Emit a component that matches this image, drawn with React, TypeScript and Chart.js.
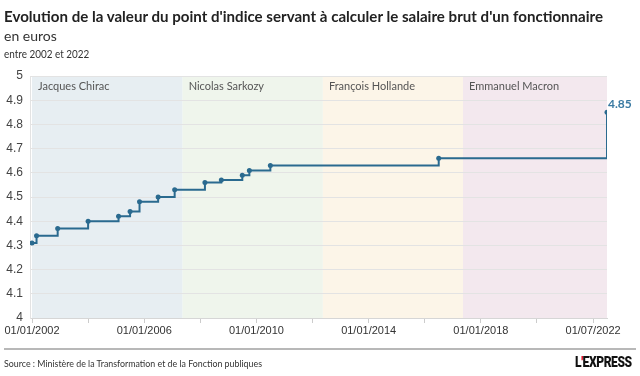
import React, { useEffect, useLayoutEffect, useRef, useState } from "react";
import { Chart, registerables } from "chart.js";

Chart.register(...registerables);

// ---------- data ----------
const TITLE = "Evolution de la valeur du point d'indice servant à calculer le salaire brut d'un fonctionnaire";
const SUBTITLE = "en euros";
const NOTE = "entre 2002 et 2022";
const SOURCE = "Source : Ministère de la Transformation et de la Fonction publiques";
const LOGO_LEFT = "L";
const LOGO_APOS = "'";
const LOGO_RIGHT = "EXPRESS";

const pointDates = [
  "2002-01-01", "2002-03-01", "2002-12-01", "2004-01-01", "2005-02-01",
  "2005-07-01", "2005-11-01", "2006-07-01", "2007-02-01", "2008-03-01",
  "2008-10-01", "2009-07-01", "2009-10-01", "2010-07-01", "2016-07-01",
  "2022-07-01",
];
const pointValues = [
  4.31, 4.34, 4.37, 4.40, 4.42,
  4.44, 4.48, 4.50, 4.53, 4.56,
  4.57, 4.59, 4.61, 4.63, 4.66,
  4.85,
];
const lastValueLabel = "4.85";

const presidents = ["Jacques Chirac", "Nicolas Sarkozy", "François Hollande", "Emmanuel Macron"];
const termStarts = ["2002-01-01", "2007-05-16", "2012-05-15", "2017-05-14"];
const termEnds = ["2007-05-16", "2012-05-15", "2017-05-14", "2022-07-01"];
const bandColors = ["#e7eef2", "#eff5ec", "#fcf5e8", "#f3e8ee"];

const xTickYears = [2002, 2004, 2006, 2008, 2010, 2012, 2014, 2016, 2018, 2020, 2022];
const xLabelYears = [2002, 2006, 2010, 2014, 2018, 2022];
const xLabelTexts = ["01/01/2002", "01/01/2006", "01/01/2010", "01/01/2014", "01/01/2018", "01/07/2022"];
const yTicks = [4, 4.1, 4.2, 4.3, 4.4, 4.5, 4.6, 4.7, 4.8, 4.9, 5];

const LINE_COLOR = "#2a6a8f";

function toYear(s: string): number {
  const d = Date.parse(s + "T00:00:00Z");
  const y = new Date(d).getUTCFullYear();
  const a = Date.UTC(y, 0, 1);
  const b = Date.UTC(y + 1, 0, 1);
  return y + (d - a) / (b - a);
}

// ---------- helpers ----------
function FitText(props: { text: React.ReactNode; width: number; style: React.CSSProperties }) {
  const ref = useRef<HTMLSpanElement>(null);
  const [k, setK] = useState(1);
  useLayoutEffect(() => {
    if (ref.current) {
      const w = ref.current.offsetWidth;
      if (w > 0) setK(props.width / w);
    }
  }, [props.width]);
  return (
    <span
      ref={ref}
      style={{
        position: "absolute",
        whiteSpace: "nowrap",
        display: "inline-block",
        transformOrigin: "0 0",
        transform: `scaleX(${k})`,
        ...props.style,
      }}
    >
      {props.text}
    </span>
  );
}

const bandsPlugin = {
  id: "bands",
  beforeDraw(chart: any) {
    const { ctx, scales } = chart;
    const x = scales.x;
    const y = scales.y;
    ctx.save();
    for (let i = 0; i < presidents.length; i++) {
      const x0 = x.getPixelForValue(toYear(termStarts[i]));
      const x1 = x.getPixelForValue(toYear(termEnds[i]));
      ctx.fillStyle = bandColors[i];
      ctx.fillRect(x0, y.getPixelForValue(5), x1 - x0, y.getPixelForValue(4) - y.getPixelForValue(5));
    }
    ctx.restore();
  },
  beforeDatasetsDraw(chart: any) {
    const { ctx, scales } = chart;
    const x = scales.x;
    const y = scales.y;
    ctx.save();
    ctx.font = "11px Lato";
    ctx.fillStyle = "#555555";
    ctx.textBaseline = "alphabetic";
    ctx.textAlign = "left";
    for (let i = 0; i < presidents.length; i++) {
      const x0 = x.getPixelForValue(toYear(termStarts[i]));
      ctx.fillText(presidents[i], x0 + 6, y.getPixelForValue(5) + 14);
    }
    ctx.restore();
  },
  afterDatasetsDraw(chart: any) {
    const { ctx } = chart;
    const meta = chart.getDatasetMeta(0);
    const p = meta.data[meta.data.length - 1];
    ctx.save();
    ctx.font = "bold 12px Lato";
    ctx.fillStyle = "#3a7aa2";
    ctx.textAlign = "left";
    ctx.textBaseline = "alphabetic";
    ctx.fillText(lastValueLabel, p.x + 1, p.y - 4);
    ctx.restore();
  },
};

export default function App() {
  const canvasRef = useRef<HTMLCanvasElement>(null);

  useEffect(() => {
    if (!canvasRef.current) return;
    const data = pointDates.map((d, i) => ({ x: toYear(d), y: pointValues[i] }));
    const xMax = toYear(pointDates[pointDates.length - 1]);
    const chart = new Chart(canvasRef.current, {
      type: "line",
      data: {
        datasets: [
          {
            data,
            stepped: "before",
            borderColor: LINE_COLOR,
            backgroundColor: LINE_COLOR,
            borderWidth: 2,
            pointRadius: 2.5,
            pointBorderWidth: 0,
            pointBackgroundColor: LINE_COLOR,
            fill: false,
          },
        ],
      },
      options: {
        responsive: false,
        animation: false,
        devicePixelRatio: 1,
        layout: { padding: { top: 76, right: 33, left: 0, bottom: 0 } },
        plugins: { legend: { display: false }, tooltip: { enabled: false } },
        scales: {
          x: {
            type: "linear",
            min: 2002 - 2 / 28.02,
            max: xMax,
            afterBuildTicks: (scale: any) => {
              scale.ticks = xTickYears.map((v) => ({ value: v }));
            },
            afterFit: (scale: any) => {
              scale.height = 58;
            },
            grid: { drawOnChartArea: false, drawTicks: true, tickLength: 5, color: "#cccccc" },
            border: { display: true, color: "#d6d6d6" },
            ticks: {
              autoSkip: false,
              maxRotation: 0,
              padding: 1,
              color: "#333333",
              font: { family: "Liberation Sans", size: 11 },
              callback: (v: any) => {
                const idx = xLabelYears.indexOf(Number(v));
                return idx >= 0 ? xLabelTexts[idx] : "";
              },
            },
          },
          y: {
            min: 4,
            max: 5,
            afterBuildTicks: (scale: any) => {
              scale.ticks = yTicks.map((v) => ({ value: v }));
            },
            afterFit: (scale: any) => {
              scale.width = 30;
            },
            grid: { drawTicks: false, color: "#e3e3e3" },
            border: { display: true, color: "#e3e3e3" },
            ticks: {
              padding: 7,
              color: "#444444",
              font: { family: "Liberation Sans", size: 12 },
              callback: (v: any) => String(Math.round(Number(v) * 10) / 10),
            },
          },
        },
      },
      plugins: [bandsPlugin],
    } as any);
    return () => chart.destroy();
  }, []);

  return (
    <div
      style={{
        position: "fixed",
        left: 0,
        top: 0,
        width: 640,
        height: 376,
        background: "#ffffff",
        overflow: "hidden",
      }}
    >
      <canvas ref={canvasRef} width={640} height={376} style={{ position: "absolute", left: 0, top: 0 }} />
      <FitText
        text={TITLE}
        width={599}
        style={{ left: 4, top: 7, fontFamily: "Lato", fontWeight: 700, fontSize: 15.5, lineHeight: "18px", color: "#222" }}
      />
      <FitText
        text={SUBTITLE}
        width={53}
        style={{ left: 4, top: 28, fontFamily: "Lato", fontSize: 14, lineHeight: "16.8px", color: "#333" }}
      />
      <FitText
        text={NOTE}
        width={85}
        style={{ left: 4, top: 48, fontFamily: "Lato", fontSize: 10.5, lineHeight: "12.6px", color: "#333" }}
      />
      <div style={{ position: "absolute", left: 4, top: 348, width: 632, height: 2, background: "#b8b8b8" }} />
      <FitText
        text={SOURCE}
        width={258}
        style={{ left: 4, top: 357, fontFamily: "Lato", fontSize: 10, lineHeight: "12px", color: "#333" }}
      />
      <FitText
        text={
          <>
            {LOGO_LEFT}
            <span style={{ color: "#e2001a" }}>{LOGO_APOS}</span>
            {LOGO_RIGHT}
          </>
        }
        width={57}
        style={{ left: 575, top: 354, fontFamily: "Roboto", fontWeight: 900, fontSize: 14, lineHeight: "16.4px", color: "#111", letterSpacing: "-0.5px" }}
      />
    </div>
  );
}
